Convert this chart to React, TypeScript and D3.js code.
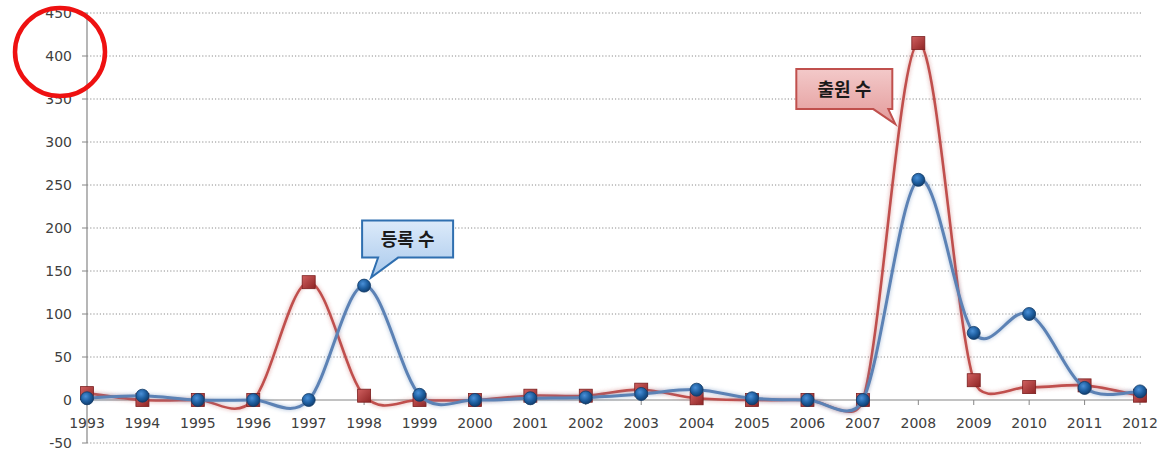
import React from "react";
import * as d3 from "d3";

const years = ["1993","1994","1995","1996","1997","1998","1999","2000","2001","2002","2003","2004","2005","2006","2007","2008","2009","2010","2011","2012"];
const applications = [8, 0, 0, 0, 137, 5, 0, 0, 5, 5, 12, 2, 0, 0, 0, 415, 23, 15, 17, 5];
const registrations = [2, 5, 0, 0, 0, 133, 6, 0, 2, 3, 7, 12, 2, 0, 0, 256, 78, 100, 14, 10];
const yTicks = [-50, 0, 50, 100, 150, 200, 250, 300, 350, 400, 450];
const appLabel = "출원 수";
const regLabel = "등록 수";

const W = 1162, H = 453;
const x = d3.scalePoint<string>().domain(years).range([87, 1140]);
const y = d3.scaleLinear().domain([-50, 450]).range([443, 13]);

// Excel-style smoothed line: Bezier with tangent (p[i+1]-p[i-1])/6, clamped to half the segment
function smoothPath(values: number[]): string {
  const pts = values.map((v, i) => [x(years[i]) as number, y(v)] as [number, number]);
  const p = d3.path();
  const dist = (a: number[], b: number[]) => Math.hypot(a[0] - b[0], a[1] - b[1]);
  p.moveTo(pts[0][0], pts[0][1]);
  for (let i = 0; i < pts.length - 1; i++) {
    const p0 = pts[Math.max(0, i - 1)];
    const p1 = pts[i];
    const p2 = pts[i + 1];
    const p3 = pts[Math.min(pts.length - 1, i + 2)];
    const d12 = dist(p1, p2);
    const d02 = dist(p0, p2);
    const d13 = dist(p1, p3);
    const f = 1 / 6;
    const f1 = d02 * f > d12 / 2 ? d12 / 2 / d02 : f;
    const f2 = d13 * f > d12 / 2 ? d12 / 2 / d13 : f;
    const c1 = [p1[0] + (p2[0] - p0[0]) * f1, p1[1] + (p2[1] - p0[1]) * f1];
    const c2 = [p2[0] - (p3[0] - p1[0]) * f2, p2[1] - (p3[1] - p1[1]) * f2];
    p.bezierCurveTo(c1[0], c1[1], c2[0], c2[1], p2[0], p2[1]);
  }
  return p.toString();
}

function calloutPath(bx: number, by: number, bw: number, bh: number, t1: number, t2: number, tx: number, ty: number) {
  return `M${bx},${by} H${bx + bw} V${by + bh} H${t2} L${tx},${ty} L${t1},${by + bh} H${bx} Z`;
}

export default function App() {
  const numFont = "'DejaVu Sans', 'Noto Sans', sans-serif";
  const korFont = "'Noto Sans CJK KR', sans-serif";
  const regIdx = years.indexOf("1998");
  const regTip = { x: (x(years[regIdx]) as number) + 7, y: y(registrations[regIdx]) - 8 };
  const appIdx = years.indexOf("2008");
  const appTip = { x: (x(years[appIdx]) as number) - 23, y: y(applications[appIdx]) + 81 };

  return (
    <div style={{ position: "absolute", left: 0, top: 0 }}>
      <svg width={W} height={H} style={{ display: "block", background: "#fff" }}>
        <defs>
          <filter id="glowR" x="-5%" y="-5%" width="110%" height="110%">
            <feGaussianBlur in="SourceGraphic" stdDeviation="2.2" result="b" />
            <feComponentTransfer in="b" result="b2">
              <feFuncA type="linear" slope="0.55" />
            </feComponentTransfer>
            <feMerge>
              <feMergeNode in="b2" />
              <feMergeNode in="SourceGraphic" />
            </feMerge>
          </filter>
          <radialGradient id="blueBall" cx="40%" cy="35%" r="65%">
            <stop offset="0%" stopColor="#4a90d8" />
            <stop offset="60%" stopColor="#1d5d9e" />
            <stop offset="100%" stopColor="#123f70" />
          </radialGradient>
          <linearGradient id="redSq" x1="0" y1="0" x2="1" y2="1">
            <stop offset="0%" stopColor="#d06060" />
            <stop offset="100%" stopColor="#8e2424" />
          </linearGradient>
          <linearGradient id="blueBox" x1="0" y1="0" x2="0" y2="1">
            <stop offset="0%" stopColor="#dceafa" />
            <stop offset="100%" stopColor="#a9c9ec" />
          </linearGradient>
          <linearGradient id="redBox" x1="0" y1="0" x2="0" y2="1">
            <stop offset="0%" stopColor="#f3c9c9" />
            <stop offset="100%" stopColor="#e39a9a" />
          </linearGradient>
        </defs>

        {yTicks.filter((t) => t !== 0).map((t) => (
          <line key={"g" + t} x1={87} x2={1142} y1={y(t)} y2={y(t)} stroke="#8c8c8c" strokeWidth={1} strokeDasharray="1.2,2" />
        ))}
        <line x1={87} x2={87} y1={y(450)} y2={y(-50)} stroke="#868686" strokeWidth={1.2} />
        {yTicks.map((t) => (
          <g key={"yt" + t}>
            <line x1={82} x2={87} y1={y(t)} y2={y(t)} stroke="#868686" />
            <text x={72} y={y(t)} dy="0.35em" textAnchor="end" fontSize={14} fill="#404040" fontFamily={numFont}>
              {t}
            </text>
          </g>
        ))}
        <line x1={87} x2={1142} y1={y(0)} y2={y(0)} stroke="#868686" strokeWidth={1.2} />
        {years.map((yr) => (
          <g key={"xt" + yr}>
            <line x1={x(yr)} x2={x(yr)} y1={y(0)} y2={y(0) + 5} stroke="#868686" />
            <text x={x(yr)} y={y(0) + 28} textAnchor="middle" fontSize={14} fill="#404040" fontFamily={numFont}>
              {yr}
            </text>
          </g>
        ))}

        <path d={smoothPath(applications)} fill="none" stroke="#c0504d" strokeWidth={2.6} filter="url(#glowR)" />
        {applications.map((v, i) => (
          <rect key={"a" + i} x={(x(years[i]) as number) - 6.5} y={y(v) - 6.5} width={13} height={13}
            fill="url(#redSq)" stroke="#7a1e1e" strokeWidth={0.8} />
        ))}

        <path d={smoothPath(registrations)} fill="none" stroke="#5b82b5" strokeWidth={3} filter="url(#glowR)" />
        {registrations.map((v, i) => (
          <circle key={"r" + i} cx={x(years[i]) as number} cy={y(v)} r={6.5} fill="url(#blueBall)" stroke="#103a66" strokeWidth={0.8} />
        ))}

        <path d={calloutPath(regTip.x - 9, regTip.y - 57, 91, 37, regTip.x + 7, regTip.x + 27, regTip.x, regTip.y)}
          fill="url(#blueBox)" stroke="#2f6fb0" strokeWidth={2} />
        <text x={regTip.x - 9 + 45.5} y={regTip.y - 57 + 18.5} dy="0.36em" textAnchor="middle" fontSize={18}
          fontWeight="bold" fill="#1a1a1a" fontFamily={korFont}>{regLabel}</text>

        <path d={calloutPath(appTip.x - 99, appTip.y - 55, 96, 40, appTip.x - 22, appTip.x - 7, appTip.x, appTip.y)}
          fill="url(#redBox)" stroke="#c0504d" strokeWidth={2} />
        <text x={appTip.x - 99 + 48} y={appTip.y - 55 + 20} dy="0.36em" textAnchor="middle" fontSize={18}
          fontWeight="bold" fill="#1a1a1a" fontFamily={korFont}>{appLabel}</text>

        <ellipse cx={60} cy={52} rx={45} ry={44} fill="none" stroke="#ee1111" strokeWidth={4.5} />
      </svg>
    </div>
  );
}
